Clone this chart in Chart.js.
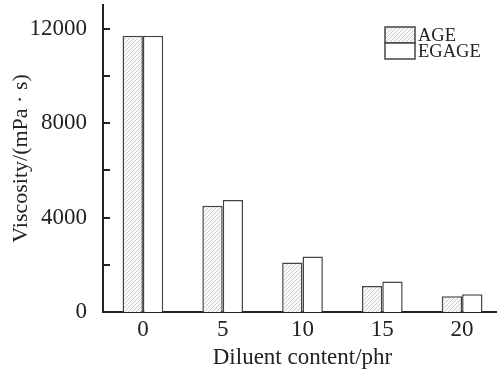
<!DOCTYPE html>
<html>
<head>
<meta charset="utf-8">
<script src="https://cdn.jsdelivr.net/npm/chart.js@4/dist/chart.umd.min.js"></script>
<style>
html, body { margin:0; padding:0; background:#fff; overflow:hidden; }
#wrap { width:497px; height:372px; overflow:hidden; }
</style>
</head>
<body>
<div id="wrap"><canvas id="chart" width="502" height="372"></canvas></div>
<script>
const categories = ["0", "5", "10", "15", "20"]
const ageValues = [11700, 4500, 2100, 1100, 670]
const egageValues = [11700, 4740, 2350, 1290, 750]
const seriesNames = ["AGE", "EGAGE"]
const yTicks = [0, 2000, 4000, 6000, 8000, 10000, 12000]
const yLabels = [0, 4000, 8000, 12000]

const FONT = "'Liberation Serif', 'DejaVu Serif', serif"

function makeHatch(){
    const c = document.createElement("canvas")
    c.width = 4
    c.height = 4
    const g = c.getContext("2d")
    g.fillStyle = "#fafafa"
    g.fillRect(0, 0, 4, 4)
    g.strokeStyle = "#c6c6c6"
    g.lineWidth = 0.9
    g.beginPath()
    g.moveTo(-1, 5); g.lineTo(5, -1)
    g.moveTo(-1, 1); g.lineTo(1, -1)
    g.moveTo(3, 5); g.lineTo(5, 3)
    g.stroke()
    return g.createPattern(c, "repeat")
}

const hatch = makeHatch()

// tick marks point inward in the original
const innerTicks = {
    id: "innerTicks",
    afterDraw(chart){
        const ctx = chart.ctx
        const y = chart.scales.y
        const left = chart.chartArea.left
        ctx.save()
        ctx.strokeStyle = "#222"
        ctx.lineWidth = 2
        yTicks.forEach(v => {
            const py = Math.round(y.getPixelForValue(v))
            ctx.beginPath()
            ctx.moveTo(left, py)
            ctx.lineTo(left + 7, py)
            ctx.stroke()
        })
        ctx.restore()
    }
}

// legend drawn as two stacked boxes like the original
const boxLegend = {
    id: "boxLegend",
    afterDraw(chart){
        const ctx = chart.ctx
        const x = 385, y0 = 27, w = 30, h = 16
        chart.data.datasets.forEach((ds, i) => {
            const y = y0 + i * h
            ctx.save()
            ctx.fillStyle = ds.backgroundColor
            ctx.fillRect(x, y, w, h)
            ctx.strokeStyle = "#444"
            ctx.lineWidth = 1.5
            ctx.strokeRect(x, y, w, h)
            ctx.fillStyle = "#222"
            ctx.font = "18.5px " + FONT
            ctx.textBaseline = "middle"
            ctx.fillText(ds.label, x + w + 3, y + h / 2 + 1)
            ctx.restore()
        })
    }
}

new Chart(document.getElementById("chart"), {
    type: "bar",
    data: {
        labels: categories,
        datasets: [
            { label: seriesNames[0], data: ageValues, backgroundColor: hatch, borderColor: "#444", borderWidth: 1.5 },
            { label: seriesNames[1], data: egageValues, backgroundColor: "#ffffff", borderColor: "#444", borderWidth: 1.5 }
        ]
    },
    options: {
        responsive: false,
        animation: false,
        layout: { padding: { top: 5, right: 0, left: 0, bottom: 0 } },
        datasets: { bar: { categoryPercentage: 0.51, barPercentage: 1 } },
        plugins: { legend: { display: false }, tooltip: { enabled: false } },
        scales: {
            x: {
                afterFit: scale => { scale.height = 60; scale.paddingLeft = 0; scale.paddingRight = 0 },
                grid: { display: false },
                border: { display: true, color: "#222", width: 2 },
                ticks: { color: "#222", font: { family: FONT, size: 23 }, padding: -4 },
                title: { display: true, text: "Diluent content/phr", color: "#222", font: { family: FONT, size: 23 }, padding: { top: 0, bottom: 0 } }
            },
            y: {
                min: 0,
                max: 13000,
                afterBuildTicks: scale => { scale.ticks = yTicks.map(v => ({ value: v })) },
                afterFit: scale => { scale.width = 103; scale.paddingTop = 0; scale.paddingBottom = 0 },
                grid: { display: false },
                border: { display: true, color: "#222", width: 2 },
                ticks: {
                    autoSkip: false,
                    color: "#222",
                    padding: 8,
                    font: { family: FONT, size: 23 },
                    callback: v => yLabels.includes(v) ? String(v) : ""
                },
                title: { display: true, text: "Viscosity/(mPa · s)", color: "#222", font: { family: FONT, size: 22 }, padding: { top: 8, bottom: 0 } }
            }
        }
    },
    plugins: [innerTicks, boxLegend]
})
</script>
</body>
</html>
